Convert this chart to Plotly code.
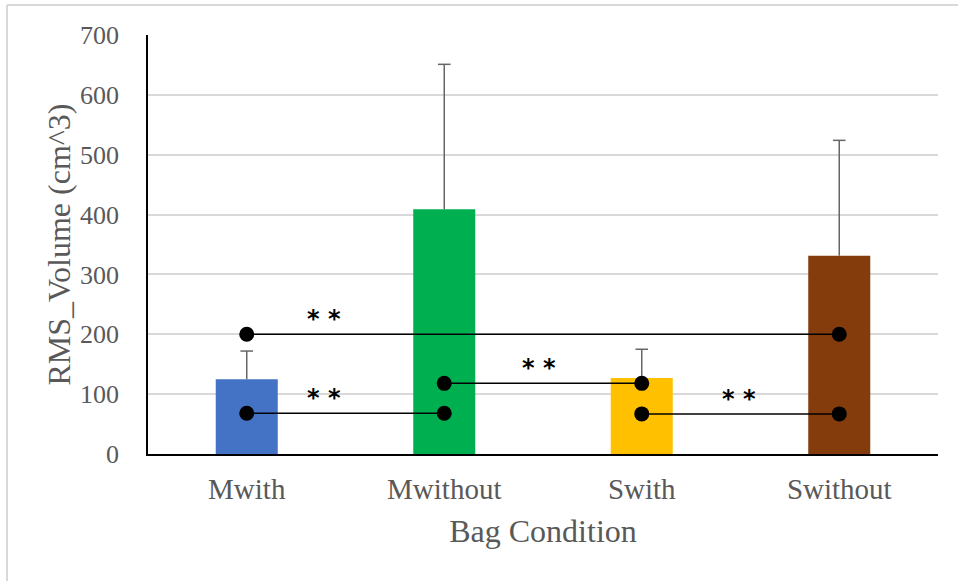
import plotly.graph_objects as go

categories = ["Mwith", "Mwithout", "Swith", "Swithout"]
means = [125, 409, 127, 331]
sd_plus = [47, 242, 48, 193]
bar_colors = ["#4472C4", "#00B050", "#FFC000", "#843C0C"]

# significance comparisons: (from category index, to category index, y level)
sig_from = [0, 0, 1, 2]
sig_to = [3, 1, 2, 3]
sig_level = [200, 68, 118, 67]
sig_label = ["* *", "* *", "* *", "* *"]
sig_label_x = [0.39, 0.39, 1.48, 2.49]
sig_label_y = [225, 93, 143, 92]

y_ticks = [0, 100, 200, 300, 400, 500, 600, 700]

idx = list(range(len(categories)))
tops = [m + s for m, s in zip(means, sd_plus)]

fig = go.Figure()
fig.add_trace(go.Bar(
    x=idx, y=means,
    marker=dict(color=bar_colors, line=dict(width=0)),
    width=0.314,
    showlegend=False, hoverinfo="skip",
))

# upper-only error bars (stem from bar top to mean+sd, cap at the end)
ex, ey = [], []
for i, m, t in zip(idx, means, tops):
    ex += [i, i, None]
    ey += [m, t, None]
fig.add_trace(go.Scatter(x=ex, y=ey, mode="lines", line=dict(color="#666666", width=1.5),
                         showlegend=False, hoverinfo="skip"))
fig.add_trace(go.Scatter(x=idx, y=tops, mode="markers",
                         marker=dict(symbol="line-ew", size=9, line=dict(color="#666666", width=1.5)),
                         showlegend=False, hoverinfo="skip"))

for a, b, lvl in zip(sig_from, sig_to, sig_level):
    fig.add_trace(go.Scatter(
        x=[a, b], y=[lvl, lvl], mode="lines+markers",
        line=dict(color="black", width=1.5),
        marker=dict(color="black", size=15),
        showlegend=False, hoverinfo="skip",
    ))

for tx, ty, t in zip(sig_label_x, sig_label_y, sig_label):
    fig.add_annotation(x=tx, y=ty, text="<b>" + t + "</b>", showarrow=False,
                       font=dict(family="DejaVu Sans", size=24, color="black"),
                       xanchor="center", yanchor="middle")

serif = "Liberation Serif, Times New Roman, serif"
fig.update_layout(
    width=958, height=581,
    margin=dict(l=148, r=20, t=35, b=127, autoexpand=False),
    paper_bgcolor="white", plot_bgcolor="white",
    font=dict(family=serif, color="#595959"),
    xaxis=dict(
        range=[-0.5, 3.5], tickvals=idx, ticktext=categories,
        showgrid=False, zeroline=False, showline=True, linecolor="black", linewidth=2,
        ticks="", tickfont=dict(size=29, family=serif, color="#595959"),
        ticklabelstandoff=8,
        title=dict(text="Bag Condition", font=dict(size=32, family=serif, color="#595959"), standoff=16),
    ),
    yaxis=dict(
        range=[0, 700], tickvals=y_ticks, showgrid=True, gridcolor="#D9D9D9", gridwidth=1.5,
        zeroline=False, showline=True, linecolor="black", linewidth=1.5, ticks="",
        tickfont=dict(size=26, family=serif, color="#595959"),
        ticklabelstandoff=22,
        title=dict(text="RMS_Volume (cm^3)", font=dict(size=32, family=serif, color="#595959"), standoff=0),
    ),
    shapes=[
        dict(type="line", xref="paper", yref="paper", x0=-0.1785, x1=-0.1785, y0=-0.4, y1=1.0716,
             line=dict(color="#D9D9D9", width=2)),
        dict(type="line", xref="paper", yref="paper", x0=-0.1785, x1=1.1, y0=1.0716, y1=1.0716,
             line=dict(color="#D9D9D9", width=2)),
    ],
)

fig.write_html("out.html", config={"displayModeBar": False},
               post_script="document.body.style.margin='0';document.body.style.overflow='hidden';")
